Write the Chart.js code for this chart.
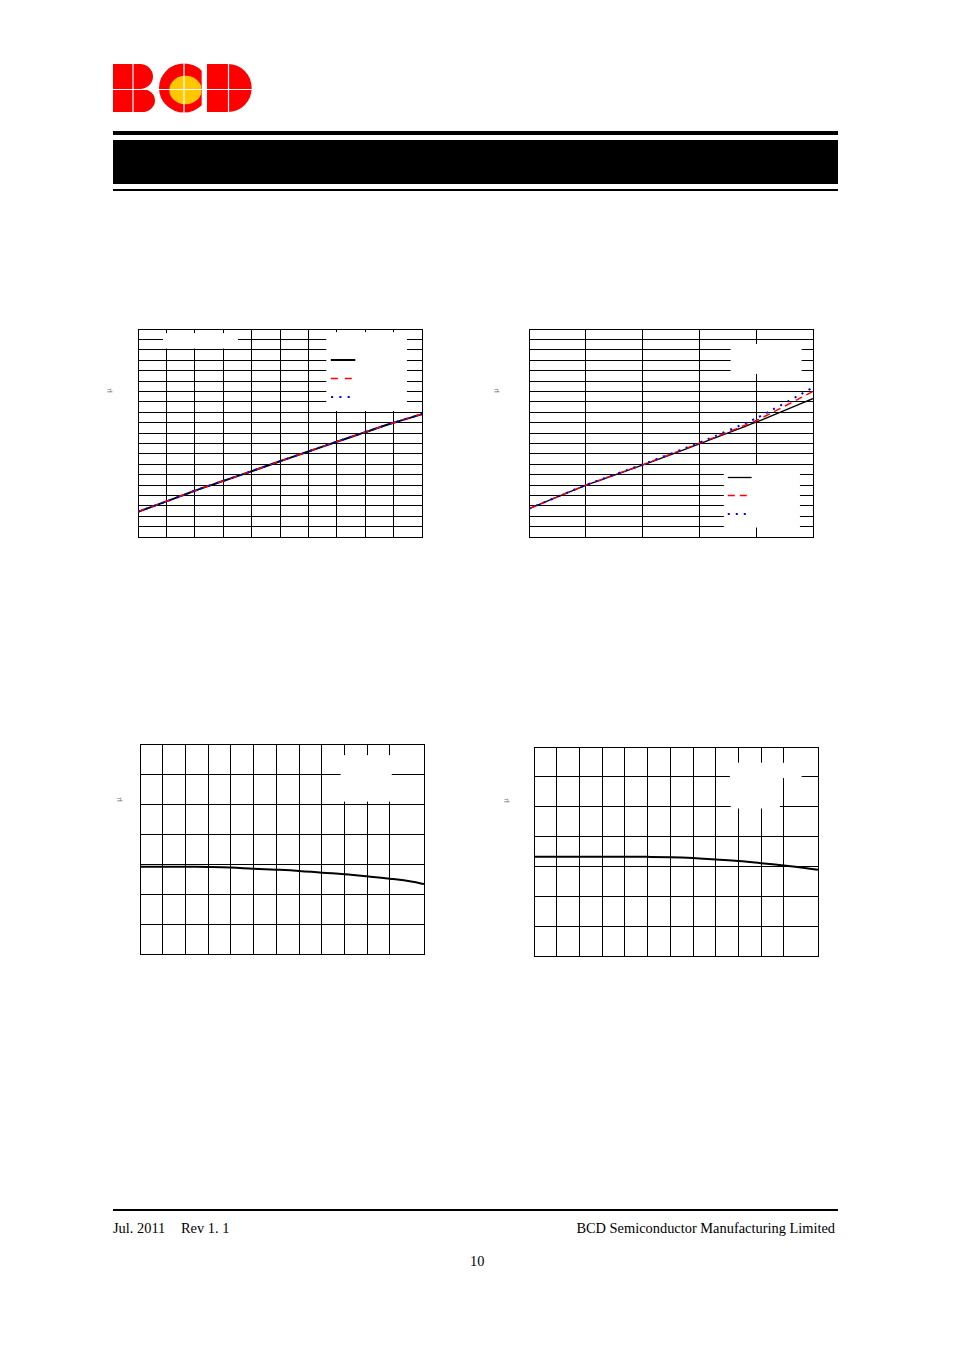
<!DOCTYPE html>
<html>
<head>
<meta charset="utf-8">
<script src="https://cdn.jsdelivr.net/npm/chart.js@4.4.0/dist/chart.umd.min.js"></script>
<style>
body { margin: 0; background: #fff; }
#page { position: relative; width: 954px; height: 1351px; background: #fff; overflow: hidden;
  font-family: "Liberation Serif", "Times New Roman", serif; color: #000; }
.abs { position: absolute; }
.bar { position: absolute; left: 113px; width: 725px; background: #000; }
.mu { position: absolute; font-family: "DejaVu Sans", sans-serif; font-size: 7px; color: #777;
  transform: rotate(-90deg); line-height: 7px; }
.foot { position: absolute; font-size: 14.4px; line-height: 16px; white-space: nowrap; }
</style>
</head>
<body>
<div id="page">
  <canvas id="logo" class="abs" width="150" height="56" style="left:108px;top:60px"></canvas>
  <div class="bar" style="top:131px;height:4px"></div>
  <div class="bar" style="top:140px;height:44px"></div>
  <div class="bar" style="top:189px;height:2px"></div>

  <span class="mu" style="left:107px;top:387px">µ</span>
  <span class="mu" style="left:494px;top:387px">µ</span>
  <span class="mu" style="left:117px;top:796px">µ</span>
  <span class="mu" style="left:504px;top:797px">µ</span>

  <canvas id="c1" class="abs" width="292" height="216" style="left:134px;top:325px"></canvas>
  <canvas id="c2" class="abs" width="292" height="216" style="left:525px;top:325px"></canvas>
  <canvas id="c3" class="abs" width="292" height="218" style="left:136px;top:740px"></canvas>
  <canvas id="c4" class="abs" width="292" height="217" style="left:530px;top:743px"></canvas>

  <div class="bar" style="top:1209px;height:2px"></div>
  <div class="foot" style="left:113px;top:1220px">Jul. 2011</div>
  <div class="foot" style="left:181px;top:1220px">Rev 1. 1</div>
  <div class="foot" style="right:119px;top:1220px">BCD Semiconductor Manufacturing Limited</div>
  <div class="foot" style="left:470px;top:1253px">10</div>
</div>

<script>
// chart 1: three overlapping straight-ish traces
const c1X = [0, 1, 2, 3, 4, 5, 6, 7, 8, 9, 10];
const c1Solid = [2.43, 3.42, 4.45, 5.38, 6.32, 7.28, 8.22, 9.16, 10.08, 10.98, 11.81];
const c1Dash = [2.45, 3.43, 4.46, 5.39, 6.33, 7.29, 8.23, 9.17, 10.09, 10.99, 11.83];
const c1Dot = [2.44, 3.42, 4.46, 5.39, 6.33, 7.29, 8.23, 9.17, 10.09, 10.99, 11.82];

// chart 2: traces fan out towards the right
const c2X = [0, 1, 2, 3, 4, 5];
const c2Solid = [2.72, 4.96, 6.91, 8.96, 11.04, 13.31];
const c2Dash = [2.72, 4.98, 6.95, 9.02, 11.2, 14.0];
const c2Dot = [2.72, 5.0, 6.98, 9.08, 11.42, 14.37];

// charts 3 and 4: temperature sweep
const tempX = [-40, -30, -20, -10, 0, 10, 20, 30, 40, 50, 60, 70, 80, 85];
const c3Curve = [2.91, 2.91, 2.91, 2.9, 2.88, 2.84, 2.81, 2.77, 2.71, 2.66, 2.59, 2.51, 2.41, 2.33];
const c4Curve = [3.32, 3.32, 3.32, 3.32, 3.32, 3.32, 3.31, 3.28, 3.23, 3.18, 3.11, 3.03, 2.94, 2.89];

const c1Range = { xMin: 0, xMax: 10, xStep: 1, yMin: 0, yMax: 20, yStep: 1 };
const c2Range = { xMin: 0, xMax: 5, xStep: 1, yMin: 0, yMax: 20, yStep: 1 };
const tempRange = { xMin: -40, xMax: 85, xStep: 10, yMin: 0, yMax: 7, yStep: 1 };

// white label areas and legend keys, in axis units
const boxPlugin = {
  id: 'boxes',
  beforeDatasetsDraw(chart, args, opts) {
    const { ctx, scales: { x, y } } = chart;
    ctx.save();
    ctx.fillStyle = '#fff';
    (opts.rects || []).forEach(r => {
      const l = x.getPixelForValue(r[0]), rt = x.getPixelForValue(r[1]);
      const b = y.getPixelForValue(r[2]), t = y.getPixelForValue(r[3]);
      ctx.fillRect(l, t, rt - l, b - t);
    });
    ctx.restore();
  },
  afterDatasetsDraw(chart, args, opts) {
    const { ctx, scales: { x, y } } = chart;
    (opts.keys || []).forEach(k => {
      const ds = chart.data.datasets[k.ds];
      const py = Math.round(y.getPixelForValue(k.y)) + (ds.borderWidth % 2 ? 0.5 : 0);
      ctx.save();
      ctx.strokeStyle = ds.borderColor;
      ctx.lineWidth = ds.borderWidth;
      ctx.setLineDash(ds.borderDash || []);
      ctx.beginPath();
      ctx.moveTo(x.getPixelForValue(k.x0), py);
      ctx.lineTo(x.getPixelForValue(k.x1), py);
      ctx.stroke();
      ctx.restore();
    });
  }
};

function axis(min, max, step) {
  return {
    type: 'linear', min: min, max: max,
    ticks: { display: false, stepSize: step, autoSkip: false },
    grid: { color: '#000', lineWidth: 1, drawTicks: false },
    border: { display: true, color: '#000', width: 1 }
  };
}

function makeChart(id, labels, datasets, range, rects, keys) {
  return new Chart(document.getElementById(id), {
    type: 'line',
    data: { labels: labels, datasets: datasets },
    options: {
      responsive: false,
      animation: false,
      layout: { padding: 4 },
      elements: { point: { radius: 0 } },
      scales: {
        x: axis(range.xMin, range.xMax, range.xStep),
        y: axis(range.yMin, range.yMax, range.yStep)
      },
      plugins: {
        legend: { display: false },
        tooltip: { enabled: false },
        boxes: { rects: rects, keys: keys }
      }
    },
    plugins: [boxPlugin]
  });
}

function pts(xs, ys) {
  return xs.map((v, i) => ({ x: v, y: ys[i] }));
}

makeChart('c1', c1X, [
  { data: pts(c1X, c1Solid), borderColor: '#000', borderWidth: 2, tension: 0.3, order: 3 },
  { data: pts(c1X, c1Dash), borderColor: '#ff0000', borderWidth: 1.5, borderDash: [7, 7], tension: 0.3, order: 2 },
  { data: pts(c1X, c1Dot), borderColor: '#0000ff', borderWidth: 2, borderDash: [2, 6.3], tension: 0.3, order: 1 }
], c1Range,
  [[0.88, 3.52, 18.12, 19.6], [6.63, 9.47, 12.12, 19.7]],
  [{ ds: 0, x0: 6.79, x1: 7.65, y: 17.04 },
   { ds: 1, x0: 6.79, x1: 7.54, y: 15.26 },
   { ds: 2, x0: 6.8, x1: 7.52, y: 13.49 }]);

makeChart('c2', c2X, [
  { data: pts(c2X, c2Solid), borderColor: '#000', borderWidth: 1.3, tension: 0.2, order: 3 },
  { data: pts(c2X, c2Dash), borderColor: '#ff0000', borderWidth: 1.5, borderDash: [7, 5], tension: 0.2, order: 2 },
  { data: pts(c2X, c2Dot), borderColor: '#0000ff', borderWidth: 2, borderDash: [2, 6], tension: 0.2, order: 1 }
], c2Range,
  [[3.55, 4.8, 15.67, 18.56], [3.43, 4.77, 0.91, 6.92]],
  [{ ds: 0, x0: 3.5, x1: 3.92, y: 5.74 },
   { ds: 1, x0: 3.5, x1: 3.86, y: 4.01 },
   { ds: 2, x0: 3.5, x1: 3.84, y: 2.21 }]);

makeChart('c3', tempX, [
  { data: pts(tempX, c3Curve), borderColor: '#000', borderWidth: 2, tension: 0.4 }
], tempRange,
  [[48.3, 70.8, 5.08, 6.63]], []);

makeChart('c4', tempX, [
  { data: pts(tempX, c4Curve), borderColor: '#000', borderWidth: 2, tension: 0.4 }
], tempRange,
  [[46.2, 77.8, 5.96, 6.47], [46.6, 68.2, 4.94, 6.47]], []);

// company logo
(function () {
  const ctx = document.getElementById('logo').getContext('2d');
  ctx.translate(-108, -60);
  const red = '#ff0000';
  ctx.fillStyle = red;
  // B
  ctx.beginPath();
  ctx.moveTo(113, 64);
  ctx.lineTo(140, 64);
  ctx.ellipse(140, 76.5, 13, 12.5, 0, -Math.PI / 2, Math.PI / 2);
  ctx.lineTo(142, 89);
  ctx.ellipse(142, 100.5, 13, 11.5, 0, -Math.PI / 2, Math.PI / 2);
  ctx.lineTo(113, 112);
  ctx.closePath();
  ctx.fill();
  // C
  ctx.save();
  ctx.beginPath();
  ctx.rect(150, 60, 51.7, 56);
  ctx.clip();
  ctx.beginPath();
  ctx.ellipse(184, 88, 25, 24.5, 0, 0, Math.PI * 2);
  ctx.fill();
  ctx.fillStyle = '#ffc800';
  ctx.beginPath();
  ctx.ellipse(185.5, 90, 16.2, 14.3, 0, 0, Math.PI * 2);
  ctx.fill();
  ctx.restore();
  // D
  ctx.fillStyle = red;
  ctx.beginPath();
  ctx.moveTo(207, 64);
  ctx.lineTo(228, 64);
  ctx.ellipse(228, 88, 23.7, 24, 0, -Math.PI / 2, Math.PI / 2);
  ctx.lineTo(207, 112);
  ctx.closePath();
  ctx.fill();
  // white dividing lines
  ctx.strokeStyle = '#fff';
  ctx.lineWidth = 1.2;
  ctx.beginPath();
  ctx.moveTo(110, 89.5); ctx.lineTo(256, 89.5);
  ctx.moveTo(133, 60); ctx.lineTo(133, 116);
  ctx.moveTo(184, 60); ctx.lineTo(184, 116);
  ctx.moveTo(228.5, 60); ctx.lineTo(228.5, 116);
  ctx.stroke();
})();
</script>
</body>
</html>
